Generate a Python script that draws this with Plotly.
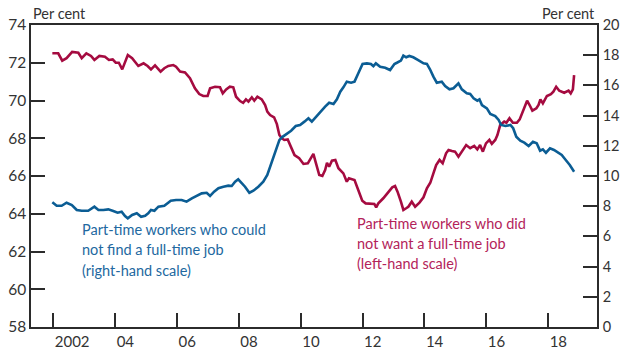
import plotly.graph_objects as go

# Share of part-time workers who did not want a full-time job (left-hand scale, per cent)
red_t = [2001.97, 2002.16, 2002.29, 2002.43, 2002.61, 2002.81, 2002.92, 2003.07, 2003.22, 2003.33,
         2003.49, 2003.67, 2003.80, 2003.92, 2004.02, 2004.12, 2004.23, 2004.41, 2004.55, 2004.75,
         2004.92, 2005.05, 2005.16, 2005.29, 2005.47, 2005.59, 2005.72, 2005.88, 2005.97, 2006.10,
         2006.26, 2006.42, 2006.58, 2006.72, 2006.85, 2006.99, 2007.07, 2007.23, 2007.39, 2007.48,
         2007.59, 2007.71, 2007.82, 2007.91, 2008.04, 2008.14, 2008.23, 2008.31, 2008.42, 2008.50,
         2008.60, 2008.74, 2008.85, 2008.92, 2009.01, 2009.14, 2009.23, 2009.31, 2009.39, 2009.47,
         2009.58, 2009.69, 2009.80, 2009.95, 2010.09, 2010.23, 2010.34, 2010.41, 2010.49, 2010.60,
         2010.70, 2010.79, 2010.85, 2010.92, 2011.01, 2011.12, 2011.22, 2011.38, 2011.49, 2011.56,
         2011.74, 2011.86, 2011.99, 2012.10, 2012.24, 2012.38, 2012.44, 2012.51, 2012.67, 2012.81,
         2012.96, 2013.05, 2013.13, 2013.24, 2013.32, 2013.41, 2013.48, 2013.59, 2013.70, 2013.84,
         2013.97, 2014.08, 2014.19, 2014.29, 2014.38, 2014.49, 2014.59, 2014.70, 2014.78, 2014.89,
         2014.99, 2015.10, 2015.21, 2015.35, 2015.48, 2015.61, 2015.71, 2015.80, 2015.89, 2015.99,
         2016.10, 2016.18, 2016.29, 2016.36, 2016.45, 2016.58, 2016.65, 2016.75, 2016.86, 2016.99,
         2017.08, 2017.19, 2017.32, 2017.40, 2017.49, 2017.62, 2017.69, 2017.75, 2017.83, 2017.96,
         2018.09, 2018.17, 2018.26, 2018.36, 2018.52, 2018.66, 2018.73, 2018.80, 2018.84]
red_v = [72.50, 72.50, 72.11, 72.24, 72.57, 72.53, 72.24, 72.50, 72.36, 72.15,
         72.36, 72.32, 72.15, 72.18, 72.00, 72.00, 71.65, 72.41, 72.24, 71.83,
         71.97, 71.83, 71.65, 71.86, 71.53, 71.71, 71.83, 71.88, 71.79, 71.53,
         71.49, 71.18, 70.65, 70.34, 70.24, 70.24, 70.65, 70.73, 70.70, 70.38,
         70.59, 70.73, 70.70, 70.20, 69.97, 69.88, 70.06, 69.94, 70.17, 69.99,
         70.20, 70.06, 69.76, 69.41, 69.23, 69.11, 68.75, 68.17, 68.00, 67.91,
         67.94, 67.52, 67.11, 66.94, 66.64, 66.67, 66.94, 67.17, 66.70, 66.05,
         66.00, 66.32, 66.70, 66.49, 66.81, 66.85, 66.41, 66.14, 65.70, 65.88,
         65.79, 65.26, 64.69, 64.55, 64.52, 64.52, 64.34, 64.55, 64.82, 65.08,
         65.40, 65.47, 65.17, 64.64, 64.20, 64.29, 64.37, 64.64, 64.37, 64.59,
         64.87, 65.35, 65.64, 66.14, 66.58, 66.85, 66.67, 67.20, 67.38, 67.32,
         67.29, 67.02, 67.29, 67.64, 67.47, 67.59, 67.41, 67.64, 67.29, 67.73,
         67.91, 67.70, 67.91, 68.17, 68.70, 68.88, 68.82, 69.06, 68.82, 68.82,
         69.00, 69.46, 69.99, 69.76, 69.46, 69.59, 69.76, 70.06, 69.85, 70.24,
         70.34, 70.47, 70.73, 70.52, 70.41, 70.52, 70.38, 70.59, 71.35]

# Share of part-time workers who could not find a full-time job (right-hand scale, per cent)
blue_t = [2001.97, 2002.11, 2002.27, 2002.43, 2002.60, 2002.76, 2002.92, 2003.13, 2003.33, 2003.46,
          2003.62, 2003.78, 2003.94, 2004.08, 2004.21, 2004.32, 2004.41, 2004.55, 2004.70, 2004.84,
          2004.97, 2005.07, 2005.16, 2005.27, 2005.40, 2005.59, 2005.80, 2005.97, 2006.15, 2006.31,
          2006.48, 2006.64, 2006.80, 2006.96, 2007.07, 2007.20, 2007.34, 2007.50, 2007.66, 2007.77,
          2007.88, 2007.98, 2008.09, 2008.20, 2008.34, 2008.47, 2008.63, 2008.79, 2008.92, 2009.01,
          2009.12, 2009.23, 2009.31, 2009.39, 2009.55, 2009.69, 2009.84, 2009.98, 2010.12, 2010.25,
          2010.36, 2010.52, 2010.68, 2010.79, 2010.92, 2011.06, 2011.17, 2011.28, 2011.38, 2011.49,
          2011.63, 2011.74, 2011.87, 2012.00, 2012.14, 2012.27, 2012.35, 2012.43, 2012.57, 2012.73,
          2012.89, 2013.03, 2013.11, 2013.24, 2013.32, 2013.41, 2013.51, 2013.64, 2013.80, 2013.97,
          2014.08, 2014.18, 2014.29, 2014.40, 2014.56, 2014.67, 2014.81, 2014.94, 2015.10, 2015.21,
          2015.37, 2015.48, 2015.59, 2015.71, 2015.78, 2015.86, 2016.02, 2016.13, 2016.29, 2016.40,
          2016.48, 2016.62, 2016.78, 2016.87, 2016.97, 2017.10, 2017.23, 2017.37, 2017.51, 2017.63,
          2017.74, 2017.83, 2017.93, 2018.06, 2018.19, 2018.33, 2018.44, 2018.55, 2018.70, 2018.84]
blue_v = [8.26, 8.03, 8.03, 8.23, 8.08, 7.75, 7.70, 7.70, 7.97, 7.75,
          7.75, 7.79, 7.68, 7.57, 7.64, 7.35, 7.20, 7.42, 7.53, 7.30,
          7.37, 7.53, 7.75, 7.70, 7.97, 8.03, 8.36, 8.41, 8.41, 8.30,
          8.52, 8.68, 8.85, 8.89, 8.68, 8.96, 9.19, 9.29, 9.36, 9.34,
          9.62, 9.78, 9.56, 9.29, 8.89, 9.03, 9.29, 9.62, 10.07, 10.62,
          11.28, 11.83, 12.38, 12.56, 12.78, 13.00, 13.31, 13.38, 13.60, 13.82,
          13.60, 13.97, 14.37, 14.59, 14.85, 14.77, 15.08, 15.58, 15.87, 16.25,
          16.18, 16.25, 16.84, 17.42, 17.46, 17.42, 17.28, 17.46, 17.24, 17.17,
          17.02, 17.42, 17.50, 17.64, 17.97, 17.86, 17.95, 17.86, 17.68, 17.46,
          17.42, 17.07, 16.58, 16.18, 16.25, 15.96, 15.74, 15.81, 16.14, 15.74,
          15.48, 15.43, 15.15, 14.99, 15.08, 14.70, 14.48, 14.11, 13.97, 13.71,
          13.38, 13.31, 13.38, 13.16, 12.60, 12.34, 12.21, 11.99, 12.27, 12.17,
          11.68, 11.77, 11.54, 11.83, 11.72, 11.54, 11.39, 11.11, 10.73, 10.28]

x_tick_vals = [2002, 2004, 2006, 2008, 2010, 2012, 2014, 2016, 2018]
x_tick_text = ["2002", "04", "06", "08", "10", "12", "14", "16", "18"]
left_ticks = [58, 60, 62, 64, 66, 68, 70, 72, 74]
right_ticks = [0, 2, 4, 6, 8, 10, 12, 14, 16, 18, 20]

blue_label = ["Part-time workers who could", "not find a full-time job", "(right-hand scale)"]
red_label = ["Part-time workers who did", "not want a full-time job", "(left-hand scale)"]

RED = "#A50B40"
BLUE = "#0B5D94"
RED_TXT = "#B3235A"
BLUE_TXT = "#2268A0"
AXIS = "#2B2B2B"
FONT = "Lato"

fig = go.Figure()
fig.add_trace(go.Scatter(x=red_t, y=red_v, mode="lines", yaxis="y",
                         line=dict(color=RED, width=2.6), showlegend=False))
fig.add_trace(go.Scatter(x=blue_t, y=blue_v, mode="lines", yaxis="y2",
                         line=dict(color=BLUE, width=2.6), showlegend=False))

annotations = []
for i, line in enumerate(blue_label):
    annotations.append(dict(x=2002.86, y=63.14 - i * 1.06, xref="x", yref="y",
                            text=line, showarrow=False, xanchor="left", yanchor="middle",
                            font=dict(family=FONT, size=14.5, color=BLUE_TXT)))
for i, line in enumerate(red_label):
    annotations.append(dict(x=2011.74, y=63.48 - i * 1.06, xref="x", yref="y",
                            text=line, showarrow=False, xanchor="left", yanchor="middle",
                            font=dict(family=FONT, size=14.5, color=RED_TXT)))
annotations.append(dict(x=0, y=1.0, xref="paper", yref="paper", text="Per cent",
                        showarrow=False, xanchor="left", yanchor="bottom", yshift=1,
                        font=dict(family=FONT, size=14.5, color="#333333")))
annotations.append(dict(x=1, y=1.0, xref="paper", yref="paper", text="Per cent",
                        showarrow=False, xanchor="right", yanchor="bottom", yshift=1,
                        font=dict(family=FONT, size=14.5, color="#333333")))

fig.update_layout(
    width=622, height=349, autosize=False,
    margin=dict(l=31, r=25, t=25, b=22),
    paper_bgcolor="white", plot_bgcolor="white",
    font=dict(family=FONT, size=15.5, color="#333333"),
    xaxis=dict(range=[2001.28, 2019.58], tickmode="array", tickvals=x_tick_vals,
               ticktext=x_tick_text, ticks="inside", ticklen=14, tickwidth=1.5,
               tickcolor=AXIS, showline=True, linecolor=AXIS, linewidth=1.5,
               mirror=True, showgrid=False, zeroline=False, automargin=False,
               ticklabelposition="outside right", tickfont=dict(size=15)),
    yaxis=dict(range=[58, 74], tickmode="array", tickvals=left_ticks,
               ticks="inside", ticklen=14, tickwidth=1.5, tickcolor=AXIS,
               showline=True, linecolor=AXIS, linewidth=1.5, showgrid=False,
               zeroline=False, automargin=False),
    yaxis2=dict(range=[0, 20], tickmode="array", tickvals=right_ticks,
                overlaying="y", side="right", ticks="inside", ticklen=14,
                tickwidth=1.5, tickcolor=AXIS, showline=True, linecolor=AXIS,
                linewidth=1.5, showgrid=False, zeroline=False, automargin=False,
                ticklabelstandoff=1, tickfont=dict(size=14.5)),
    annotations=annotations,
)

fig.write_html("out.html")
